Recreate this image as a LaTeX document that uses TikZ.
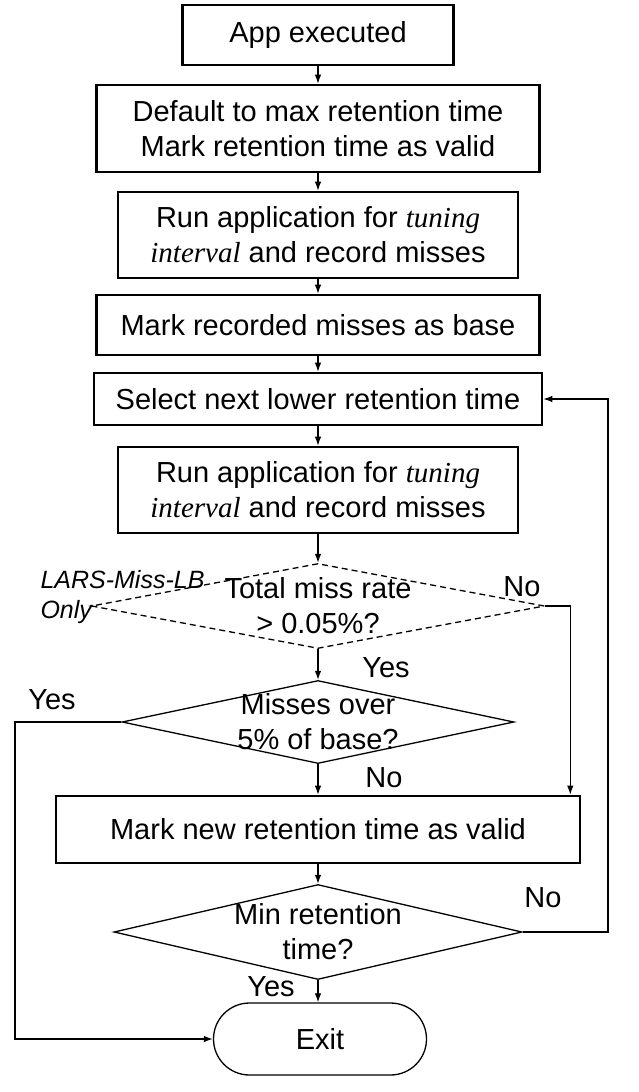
\documentclass[tikz,border=0pt]{standalone}
\usepackage{fontspec}
\setmainfont{Liberation Sans}
\newfontfamily\timesfont{Liberation Serif}
\usepackage{tikz}
\usetikzlibrary{arrows.meta}
\usetikzlibrary{shapes,shapes.geometric}
\tikzset{>={Latex[length=9pt,width=6.5pt]}}
\tikzset{
  process/.style={draw, line width=2.6pt, align=center, font=\fontsize{29}{35}\selectfont},
  decision/.style={draw, diamond, line width=1.3pt, inner sep=0pt},
  terminal/.style={draw, line width=1.3pt, rounded corners=36pt, font=\fontsize{29}{35}\selectfont},
  txt/.style={align=center, font=\fontsize{29}{35}\selectfont},
  lbl/.style={font=\fontsize{29}{35}\selectfont},
  flow/.style={->, line width=1.2pt}
}
\newcommand{\tuning}[1]{{\timesfont\itshape #1}}

\begin{document}
\begin{tikzpicture}[x=1pt,y=-1pt]
      \useasboundingbox (0,0) rectangle (638,1092);
      \node[process, minimum width=271pt, minimum height=60pt] (app) at (318,35) {App executed};
      \node[process, minimum width=443pt, minimum height=87pt] (default) at (318,128.5) {Default to max retention time\\Mark retention time as valid};
      \node[process, minimum width=400pt, minimum height=86pt] (run1) at (318,235) {Run application for \tuning{tuning}\\\tuning{interval} and record misses};
      \node[process, minimum width=443pt, minimum height=60pt] (base) at (318,325) {Mark recorded misses as base};
      \node[process, minimum width=448pt, minimum height=52pt] (select) at (318,399) {Select next lower retention time};
      \node[process, minimum width=400pt, minimum height=86pt] (run2) at (318,490) {Run application for \tuning{tuning}\\\tuning{interval} and record misses};
      \node[decision, dash pattern=on 6pt off 4pt, minimum width=453pt, minimum height=85pt] (total) at (318,606) {};
      \node[txt] (totaltxt) at (total) {Total miss rate\\> 0.05\%?};
      \node[decision, minimum width=392pt, minimum height=83pt] (over) at (318,722) {};
      \node[txt] (overtxt) at (over) {Misses over\\5\% of base?};
      \node[process, minimum width=524pt, minimum height=67pt] (valid) at (318,829.5) {Mark new retention time as valid};
      \node[decision, minimum width=408pt, minimum height=95pt] (min) at (318,932) {};
      \node[txt] (mintxt) at (min) {Min retention\\time?};
      \node[terminal, minimum width=213pt, minimum height=72pt] (exit) at (320,1039) {Exit};
      \node[txt, anchor=west, align=left, font=\fontsize{25}{30}\selectfont\itshape] (lars) at (37,597) {LARS-Miss-LB\\Only};
      \node[lbl] (nototal) at (522,587) {No};
      \node[lbl] (yestotal) at (386,668) {Yes};
      \node[lbl] (yesover) at (52,700) {Yes};
      \node[lbl] (noover) at (384,778) {No};
      \node[lbl] (nomin) at (543,898) {No};
      \node[lbl] (yesmin) at (271,987) {Yes};
      \coordinate (leftrail) at (15,0);
      \coordinate (looprail) at (608,0);
      \draw[flow] (app) -- (default);
      \draw[flow] (default) -- (run1);
      \draw[flow] (run1) -- (base);
      \draw[flow] (base) -- (select);
      \draw[flow] (select) -- (run2);
      \draw[flow] (run2) -- (total);
      \draw[flow] (total) -- (over);
      \draw[flow] (total.east) -| ([xshift=-11pt]valid.north east);
      \draw[flow] (over) -- (valid);
      \draw[flow] (over.west) -| (leftrail |- exit.west) -- (exit.west);
      \draw[flow] (valid) -- (min);
      \draw[flow] (min.south) -- (exit.north -| min.south);
      \draw[flow] (min.east) -| (looprail |- select.east) -- (select.east);
    \end{tikzpicture}
\end{document}
